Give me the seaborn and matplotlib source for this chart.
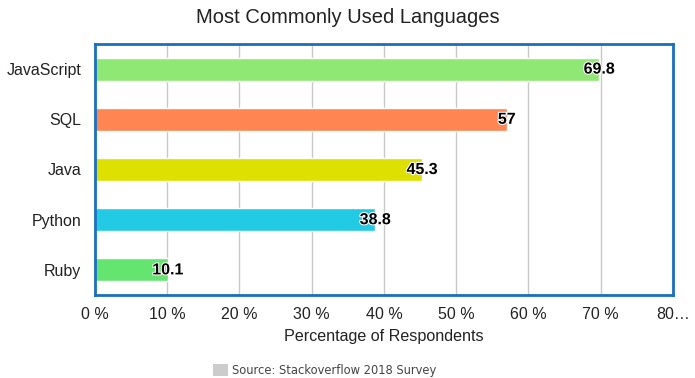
import matplotlib
matplotlib.use("Agg")
import matplotlib.pyplot as plt
from matplotlib.patches import Patch
import matplotlib.patheffects as pe
import pandas as pd
import seaborn as sns

# data
languages = ["JavaScript", "SQL", "Java", "Python", "Ruby"]
percent = [69.8, 57, 45.3, 38.8, 10.1]
bar_colors = ["#90E874", "#FF8552", "#DDE000", "#22CAE3", "#64E570"]
x_ticks = [0, 10, 20, 30, 40, 50, 60, 70, 80]
x_tick_labels = ["0 %", "10 %", "20 %", "30 %", "40 %", "50 %", "60 %", "70 %", "80…"]

df = pd.DataFrame({"Language": languages, "Percent": percent})

sns.set_style("white")
plt.rcParams["font.family"] = ["Liberation Sans", "DejaVu Sans"]

fig = plt.figure(figsize=(6.95, 3.78), dpi=100)
ax = fig.add_axes([0.1367, 0.2196, 0.8316, 0.664])

sns.barplot(data=df, x="Percent", y="Language", hue="Language",
            palette=bar_colors, saturation=1, orient="h", width=0.46,
            legend=False, ax=ax)

# value labels centred on the bar ends
for cont in ax.containers:
    labels = ax.bar_label(cont, fmt="%g", padding=0, fontsize=11.5,
                          fontweight="bold", color="black")
    for t in labels:
        t.set_ha("center")
        t.set_path_effects([pe.withStroke(linewidth=1.5, foreground="white")])

ax.set_xlim(0, 80)
ax.set_ylim(4.5, -0.5)
ax.set_xticks(x_ticks)
ax.set_xticklabels(x_tick_labels, fontsize=11.5, color="#222222")
ax.set_yticks(range(len(languages)))
ax.set_yticklabels(languages, fontsize=11.5, color="#222222")
ax.set_yticks([i - 0.5 for i in range(len(languages) + 1)], minor=True)
ax.tick_params(axis="y", which="major", length=0, pad=10)
ax.tick_params(axis="y", which="minor", length=9, color="#c0c8d8", width=1)
ax.tick_params(axis="x", which="major", length=5, color="#c0c8d8", width=1, pad=4)
ax.xaxis.grid(True, color="#c8c8c8", linewidth=1)
ax.set_axisbelow(True)

for s in ax.spines.values():
    s.set_color("#1A6FC0")
    s.set_linewidth(2)

ax.set_xlabel("Percentage of Respondents", fontsize=11.6, color="#222222", labelpad=5)
ax.set_ylabel("")
fig.suptitle("Most Commonly Used Languages", fontsize=14.5, y=0.98, color="#222222")

handle = Patch(facecolor="#cccccc", edgecolor="none")
fig.legend([handle], ["Source: Stackoverflow 2018 Survey"], loc="lower center",
           bbox_to_anchor=(0.467, -0.025), frameon=False, handlelength=1.3,
           handleheight=1.3, handletextpad=0.4,
           prop={"family": "DejaVu Sans", "size": 8.3}, labelcolor="#444444")

fig.savefig("out.png", dpi=100)
